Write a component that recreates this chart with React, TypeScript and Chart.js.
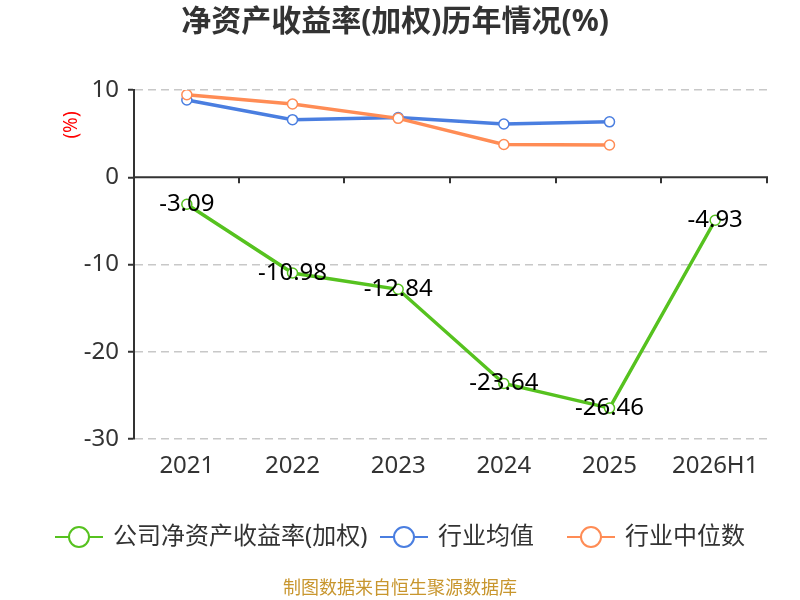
import { useEffect, useRef } from "react";
import { Chart, registerables } from "chart.js";

Chart.register(...registerables);

const years = ["2021", "2022", "2023", "2024", "2025", "2026H1"];
const companyRoe = [-3.09, -10.98, -12.84, -23.64, -26.46, -4.93];
const industryAvg = [8.85, 6.6, 6.85, 6.1, 6.35, null];
const industryMedian = [9.45, 8.4, 6.75, 3.75, 3.7, null];
const yTicks = [-30, -20, -10, 0, 10];

const GREEN = "#56c21f";
const BLUE = "#4a7ee0";
const ORANGE = "#ff8c55";
const FONT = '"Noto Sans", "Noto Sans CJK SC", sans-serif';

const legendItems = [
  { label: "公司净资产收益率(加权)", color: GREEN, x: 55 },
  { label: "行业均值", color: BLUE, x: 380 },
  { label: "行业中位数", color: ORANGE, x: 567 },
];

// title, zero axis, value labels, legend and footer are painted by hand
const decorations = {
  id: "decorations",
  beforeDatasetsDraw(chart: any) {
    const { ctx, chartArea, scales } = chart;
    const y0 = scales.y.getPixelForValue(0);
    ctx.save();
    ctx.strokeStyle = "#333";
    ctx.lineWidth = 2;
    ctx.beginPath();
    ctx.moveTo(chartArea.left, y0);
    ctx.lineTo(chartArea.right, y0);
    const step = (chartArea.right - chartArea.left) / years.length;
    for (let i = 1; i <= years.length; i++) {
      const x = Math.round(chartArea.left + i * step) - 1;
      ctx.moveTo(x, y0);
      ctx.lineTo(x, y0 + 6);
    }
    ctx.stroke();
    ctx.restore();
  },
  afterDatasetsDraw(chart: any) {
    const { ctx } = chart;
    const meta = chart.getDatasetMeta(0);
    ctx.save();
    ctx.fillStyle = "#000";
    ctx.font = `24px ${FONT}`;
    ctx.textAlign = "center";
    ctx.textBaseline = "middle";
    meta.data.forEach((pt: any, i: number) => {
      ctx.fillText(companyRoe[i].toFixed(2), pt.x, pt.y);
    });
    ctx.restore();
  },
  afterDraw(chart: any) {
    const { ctx } = chart;
    ctx.save();
    ctx.fillStyle = "#333";
    ctx.font = `bold 30px ${FONT}`;
    ctx.textAlign = "center";
    ctx.textBaseline = "middle";
    ctx.fillText("净资产收益率(加权)历年情况(%)", 395, 22);

    ctx.save();
    ctx.translate(72, 125);
    ctx.rotate(-Math.PI / 2);
    ctx.fillStyle = "#f00";
    ctx.font = `19px ${FONT}`;
    ctx.fillText("(%)", 0, 0);
    ctx.restore();

    legendItems.forEach((it) => {
      const cy = 537;
      ctx.strokeStyle = it.color;
      ctx.lineWidth = 2;
      ctx.beginPath();
      ctx.moveTo(it.x, cy);
      ctx.lineTo(it.x + 48, cy);
      ctx.stroke();
      ctx.beginPath();
      ctx.arc(it.x + 24, cy, 10, 0, Math.PI * 2);
      ctx.fillStyle = "#fff";
      ctx.fill();
      ctx.stroke();
      ctx.fillStyle = "#333";
      ctx.font = `24px ${FONT}`;
      ctx.textAlign = "left";
      ctx.fillText(it.label, it.x + 58, cy);
    });

    ctx.fillStyle = "#c8962e";
    ctx.font = `18px ${FONT}`;
    ctx.textAlign = "center";
    ctx.fillText("制图数据来自恒生聚源数据库", 400, 589);
    ctx.restore();
  },
};

function line(label: string, data: (number | null)[], color: string, order: number) {
  return {
    label,
    data,
    borderColor: color,
    backgroundColor: "#fff",
    borderWidth: 3.5,
    pointRadius: 5,
    pointBorderWidth: 1.5,
    pointBorderColor: color,
    pointBackgroundColor: "#fff",
    order,
  };
}

export default function App() {
  const canvasRef = useRef<HTMLCanvasElement>(null);

  useEffect(() => {
    if (!canvasRef.current) return;
    const chart = new Chart(canvasRef.current, {
      type: "line",
      data: {
        labels: years,
        datasets: [
          line("公司净资产收益率(加权)", companyRoe, GREEN, 0),
          line("行业均值", industryAvg, BLUE, 2),
          line("行业中位数", industryMedian, ORANGE, 1),
        ] as any,
      },
      options: {
        animation: false,
        responsive: true,
        maintainAspectRatio: false,
        layout: { padding: { top: 90, right: 32, bottom: 101, left: 0 } },
        plugins: { legend: { display: false }, title: { display: false }, tooltip: { enabled: false } },
        scales: {
          x: {
            offset: true,
            grid: { display: false, drawTicks: false },
            border: { display: false },
            ticks: { color: "#333", font: { size: 24, family: FONT }, padding: 13 },
            afterFit: (s: any) => {
              s.height = 60;
            },
          },
          y: {
            min: yTicks[0],
            max: yTicks[yTicks.length - 1],
            afterBuildTicks: (s: any) => {
              s.ticks = yTicks.map((v) => ({ value: v }));
            },
            ticks: { color: "#333", font: { size: 24, family: FONT }, padding: 9 },
            grid: {
              color: (c: any) => (c.tick && c.tick.value === 0 ? "rgba(0,0,0,0)" : "#c8c8c8"),
              lineWidth: 1.5,
              tickColor: "#333",
              tickLength: 6,
              tickWidth: 2,
            },
            border: { display: true, color: "#333", width: 2, dash: [8, 5] },
            afterFit: (s: any) => {
              s.width = 134;
            },
          },
        },
      },
      plugins: [decorations],
    });
    return () => chart.destroy();
  }, []);

  return (
    <div style={{ position: "absolute", left: 0, top: 0, width: 800, height: 600, background: "#fff" }}>
      <canvas ref={canvasRef} />
    </div>
  );
}
